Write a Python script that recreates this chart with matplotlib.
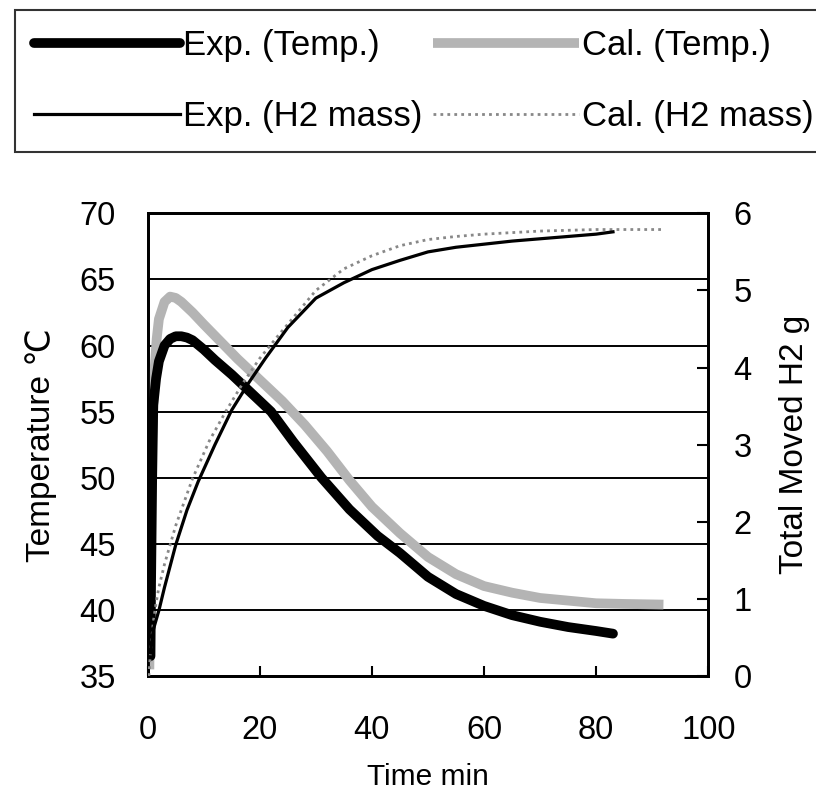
import matplotlib
matplotlib.use("Agg")
import matplotlib.pyplot as plt

plt.rcParams['font.family'] = ['Liberation Sans', 'DejaVu Sans']

# Experimental temperature (min, degC)
exp_temp_t = [0.5, 0.6, 0.8, 1.0, 1.5, 2, 3, 4, 5, 6, 7, 8, 10, 12, 15, 18, 22, 26, 31, 36,
              41, 45, 50, 55, 60, 65, 70, 75, 80, 83]
exp_temp = [36.5, 42, 50, 55.5, 57.5, 58.8, 60, 60.5, 60.7, 60.7, 60.6, 60.4, 59.7, 58.9, 57.8,
            56.6, 55.0, 52.7, 50.0, 47.6, 45.6, 44.3, 42.5, 41.2, 40.3, 39.6, 39.1, 38.7, 38.4, 38.2]

# Calculated temperature
cal_temp_t = [0.3, 0.5, 0.8, 1.2, 1.6, 2, 3, 4, 5, 6, 8, 10, 13, 16, 20, 24, 28, 32, 36, 40,
              45, 50, 55, 60, 65, 70, 75, 80, 85, 92]
cal_temp = [35.5, 45, 53, 58, 60.5, 62, 63.3, 63.7, 63.6, 63.3, 62.5, 61.6, 60.3, 59.0, 57.4,
            55.8, 54.0, 52.0, 49.8, 47.8, 45.8, 44.0, 42.7, 41.8, 41.3, 40.9, 40.7, 40.5, 40.45, 40.4]

# Experimental moved H2 mass (g)
exp_h2_t = [0.5, 1, 2, 3, 5, 7, 9, 12, 15, 18, 21, 25, 30, 35, 40, 45, 50, 55, 60, 65, 70,
            75, 80, 83]
exp_h2 = [0.3, 0.6, 0.85, 1.15, 1.7, 2.15, 2.52, 3.0, 3.45, 3.8, 4.12, 4.52, 4.9, 5.1, 5.27,
          5.39, 5.5, 5.56, 5.6, 5.64, 5.67, 5.7, 5.73, 5.76]

# Calculated moved H2 mass (g)
cal_h2_t = [0.2, 0.5, 1, 1.5, 2, 3, 5, 8, 11, 14, 17, 20, 23, 26, 30, 35, 40, 45, 50, 55, 60,
            65, 70, 75, 80, 85, 92]
cal_h2 = [0.0, 0.3, 0.7, 0.95, 1.15, 1.45, 1.95, 2.56, 3.05, 3.44, 3.8, 4.12, 4.39, 4.65, 5.0,
          5.28, 5.45, 5.58, 5.66, 5.7, 5.73, 5.75, 5.77, 5.78, 5.79, 5.79, 5.79]

temp_ticks = [35, 40, 45, 50, 55, 60, 65, 70]
h2_ticks = [0, 1, 2, 3, 4, 5, 6]
time_ticks = [0, 20, 40, 60, 80, 100]

fig = plt.figure(figsize=(8.16, 7.99), dpi=100)
ax = fig.add_axes([0.181, 0.154, 0.687, 0.579])
ax2 = ax.twinx()

fs = 23.5

l_ct, = ax.plot(cal_temp_t, cal_temp, color='#b4b4b4', lw=7, solid_capstyle='butt',
                label='Cal. (Temp.)', zorder=3)
l_et, = ax.plot(exp_temp_t, exp_temp, color='black', lw=7, solid_capstyle='round',
                label='Exp. (Temp.)', zorder=4)
l_ch, = ax2.plot(cal_h2_t, cal_h2, color='#888888', lw=2, ls=(0, (1, 1.5)),
                 label='Cal. (H2 mass)', zorder=3)
l_eh, = ax2.plot(exp_h2_t, exp_h2, color='black', lw=2.3, label='Exp. (H2 mass)', zorder=4)

ax.set_xlim(0, 100)
ax.set_ylim(35, 70)
ax2.set_ylim(0, 6)
ax.set_xticks(time_ticks)
ax.set_yticks(temp_ticks)
ax2.set_yticks(h2_ticks)
ax.yaxis.grid(True, color='black', lw=1.4)
ax.set_axisbelow(True)

ax.tick_params(axis='y', length=0, pad=23, labelsize=fs)
ax.tick_params(axis='x', direction='in', length=7, width=1.5, pad=28, labelsize=fs)
ax2.tick_params(axis='y', direction='in', length=8, width=1.5, pad=18, labelsize=fs)

for a in (ax, ax2):
    for s in a.spines.values():
        s.set_linewidth(2)

ax.set_ylabel('Temperature \u2103', fontsize=24, labelpad=16)
ax2.set_ylabel('Total Moved H2 g', fontsize=24, labelpad=20)
ax.set_xlabel('Time min', fontsize=21.5, labelpad=12)

leg = fig.legend(handles=[l_et, l_eh, l_ct, l_ch], ncol=2, loc='upper left',
                 bbox_to_anchor=(0.018, 0.9875), fontsize=25, frameon=True,
                 fancybox=False, edgecolor='black', handlelength=4.2,
                 handletextpad=0.1, columnspacing=0.3, labelspacing=1.1,
                 borderpad=0.55, borderaxespad=0)
leg.get_frame().set_linewidth(1.5)

fig.savefig('out.png', dpi=100)
